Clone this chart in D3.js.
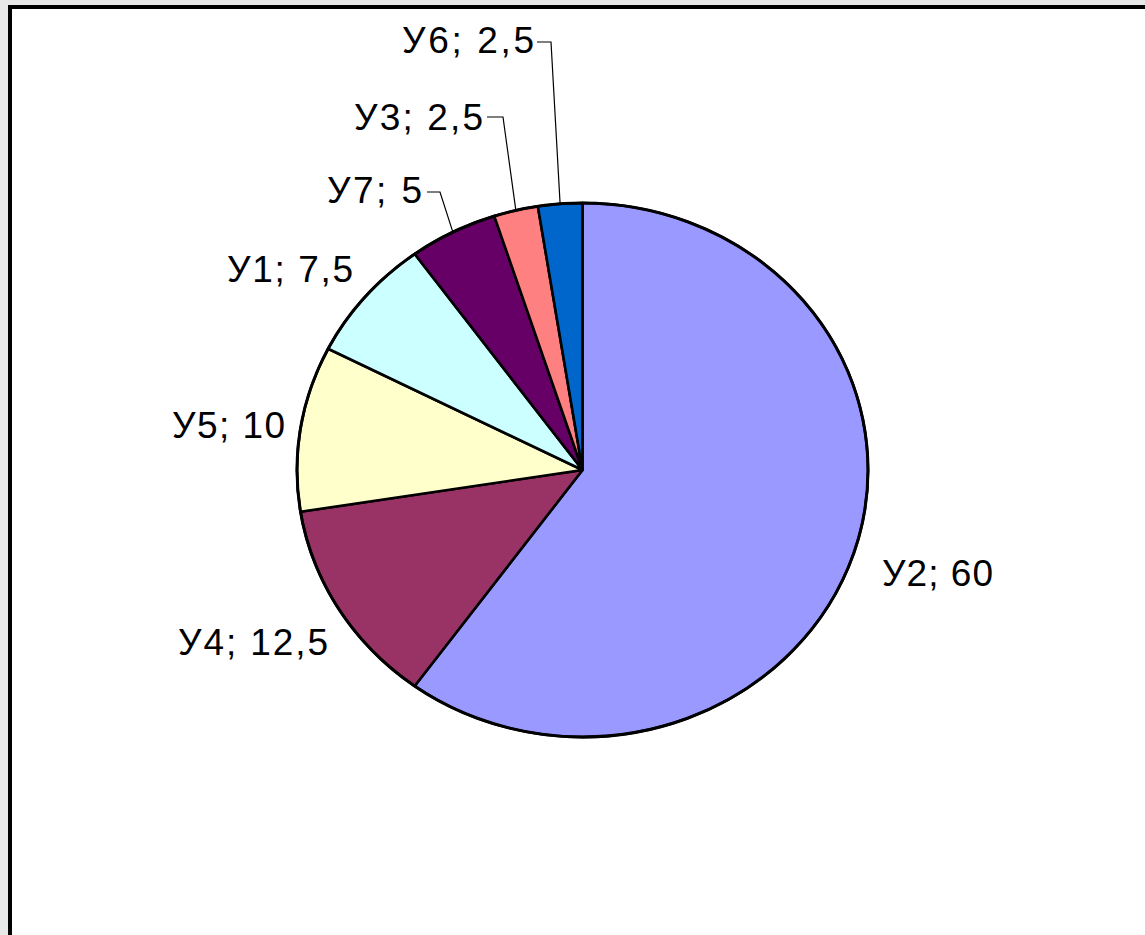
<!DOCTYPE html>
<html>
<head>
<meta charset="utf-8">
<script src="https://cdn.jsdelivr.net/npm/d3@7"></script>
<style>
  html, body { margin: 0; padding: 0; background: #e8e8e8; }
  svg { display: block; }
</style>
</head>
<body>
<svg id="chart" width="1145" height="935"></svg>
<script>
// ---- data ----
const categories = ["У2", "У4", "У5", "У1", "У7", "У3", "У6"];
const values     = [60, 12.5, 10, 7.5, 5, 2.5, 2.5];
const valueLabels = ["60", "12,5", "10", "7,5", "5", "2,5", "2,5"];
const colors     = ["#9999FF", "#993366", "#FFFFCC", "#CCFFFF", "#660066", "#FF8080", "#0066CC"];

// ---- layout (positions of labels, not data) ----
const labelLayout = {
  "У2": { x: 882, y: 586, w: 111 },
  "У4": { x: 178, y: 655, w: 150 },
  "У5": { x: 172, y: 438, w: 113 },
  "У1": { x: 227, y: 282, w: 126 },
  "У7": { x: 327, y: 203, w: 95, leader: { y: 192, x0: 427, x1: 440 } },
  "У3": { x: 354, y: 130, w: 129, leader: { y: 117, x0: 487, x1: 503 } },
  "У6": { x: 402, y: 53,  w: 132, leader: { y: 42,  x0: 537, x1: 551 } }
};

const svg = d3.select("#chart");
const W = 1145, H = 935;

// frame
svg.append("rect").attr("x", 0).attr("y", 0).attr("width", W).attr("height", H).attr("fill", "#e8e8e8");
svg.append("rect")
  .attr("x", 10).attr("y", 7)
  .attr("width", W + 20).attr("height", H + 20)
  .attr("fill", "#ffffff").attr("stroke", "#000").attr("stroke-width", 4);

const cx = 582.5, cy = 470, rx = 285.5, ry = 267;

const pie = d3.pie().sort(null).value(d => d.value);
const data = categories.map((c, i) => ({ cat: c, value: values[i], label: valueLabels[i], color: colors[i] }));
const arcs = pie(data);
const arc = d3.arc().innerRadius(0).outerRadius(ry);

const g = svg.append("g").attr("transform", `translate(${cx},${cy}) scale(${rx / ry},1)`);
g.selectAll("path.slice")
  .data(arcs)
  .enter().append("path")
  .attr("class", "slice")
  .attr("d", arc)
  .attr("fill", d => d.data.color)
  .attr("stroke", "#000")
  .attr("stroke-width", 2.6)
  .attr("stroke-linejoin", "round")
  .attr("vector-effect", "non-scaling-stroke");

// outer outline
g.append("ellipse").attr("cx", 0).attr("cy", 0).attr("rx", ry).attr("ry", ry)
  .attr("fill", "none").attr("stroke", "#000").attr("stroke-width", 3)
  .attr("vector-effect", "non-scaling-stroke");

// labels
const lg = svg.append("g");
arcs.forEach(a => {
  const L = labelLayout[a.data.cat];
  lg.append("text")
    .attr("x", L.x).attr("y", L.y)
    .attr("font-family", "'Liberation Sans', Arial, sans-serif")
    .attr("font-size", 37)
    .attr("fill", "#000")
    .attr("textLength", L.w)
    .attr("lengthAdjust", "spacing")
    .text(`${a.data.cat}; ${a.data.label}`);
  if (L.leader) {
    const mid = (a.startAngle + a.endAngle) / 2;
    const ex = cx + rx * Math.sin(mid);
    const ey = cy - ry * Math.cos(mid);
    lg.append("path")
      .attr("d", `M${L.leader.x0},${L.leader.y}H${L.leader.x1}L${ex},${ey}`)
      .attr("fill", "none").attr("stroke", "#000").attr("stroke-width", 1.2);
  }
});
</script>
</body>
</html>
